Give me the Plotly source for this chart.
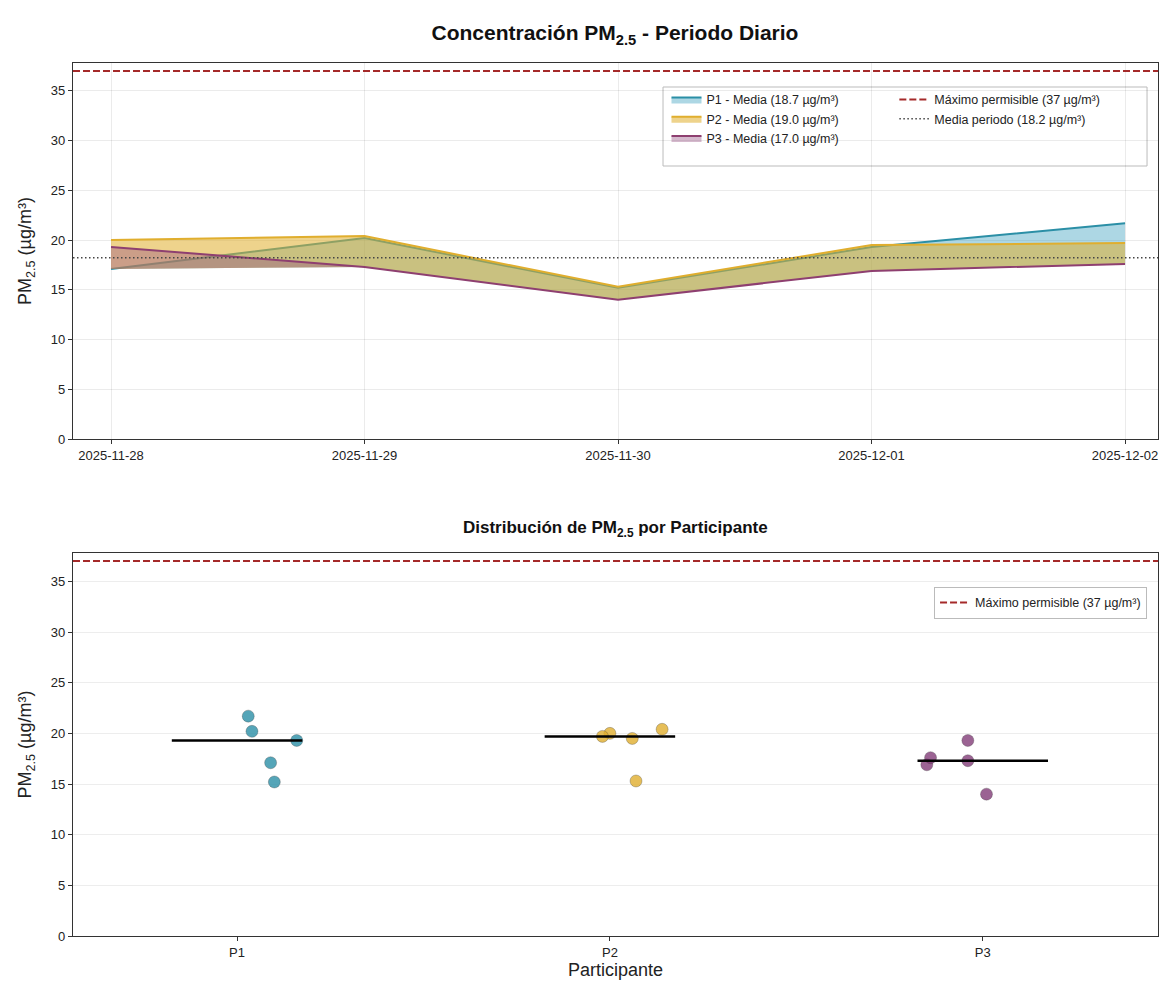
import numpy as np
import pandas as pd
import plotly.graph_objects as go

# ---------------- data ----------------
dates = ["2025-11-28", "2025-11-29", "2025-11-30", "2025-12-01", "2025-12-02"]
participants = ["P1", "P2", "P3"]
p1_values = [17.1, 20.2, 15.2, 19.3, 21.7]
p2_values = [20.0, 20.4, 15.3, 19.5, 19.7]
p3_values = [19.3, 17.3, 14.0, 16.9, 17.6]
# horizontal jitter of the strip-plot points (category units)
p1_jitter = [0.09, 0.04, 0.10, 0.16, 0.03]
p2_jitter = [0.00, 0.14, 0.07, 0.06, -0.02]
p3_jitter = [-0.04, -0.04, 0.01, -0.15, -0.14]
limit_value = 37

values = {"P1": p1_values, "P2": p2_values, "P3": p3_values}
jitters = {"P1": p1_jitter, "P2": p2_jitter, "P3": p3_jitter}
line_colors = {"P1": "#2B8FA6", "P2": "#E0AE2E", "P3": "#8E3F70"}
fill_colors = {"P1": "rgba(60,160,190,0.42)", "P2": "rgba(224,174,46,0.55)", "P3": "rgba(150,80,130,0.40)"}
marker_colors = {"P1": "rgba(43,143,166,0.8)", "P2": "rgba(224,174,46,0.8)", "P3": "rgba(130,60,120,0.8)"}

FONT = "Liberation Sans, Arial, Helvetica, sans-serif"
dt = pd.to_datetime(dates)
floor = np.min(np.array([p1_values, p2_values, p3_values]), axis=0)
overall_mean = np.mean(np.concatenate([p1_values, p2_values, p3_values]))

fig = go.Figure()

# ---------------- top chart ----------------
for p in participants:
    v = values[p]
    fig.add_trace(go.Scatter(x=dt, y=floor, mode="lines", line=dict(width=0),
                             showlegend=False, hoverinfo="skip", xaxis="x", yaxis="y"))
    fig.add_trace(go.Scatter(x=dt, y=v, mode="lines", fill="tonexty",
                             fillcolor=fill_colors[p],
                             line=dict(color=line_colors[p], width=2),
                             name=f"{p} - Media ({np.mean(v):.1f} µg/m³)",
                             legend="legend", xaxis="x", yaxis="y"))

# ---------------- bottom chart ----------------
for i, p in enumerate(participants):
    v = values[p]
    xs = [i + j for j in jitters[p]]
    fig.add_trace(go.Scatter(x=xs, y=v, mode="markers", showlegend=False,
                             marker=dict(size=12, color=marker_colors[p],
                                         line=dict(color="rgba(60,60,60,0.5)", width=0.6)),
                             xaxis="x2", yaxis="y2"))
    med = float(np.median(v))
    fig.add_trace(go.Scatter(x=[i - 0.175, i + 0.175], y=[med, med], mode="lines",
                             line=dict(color="black", width=2.5), showlegend=False,
                             xaxis="x2", yaxis="y2"))

shapes = [
    dict(type="line", xref="x domain", yref="y", x0=0, x1=1, y0=limit_value, y1=limit_value,
         line=dict(color="#A52A2A", width=2, dash="7px,3px"), showlegend=True,
         name=f"Máximo permisible ({limit_value} µg/m³)", legend="legend2", layer="above"),
    dict(type="line", xref="x domain", yref="y", x0=0, x1=1, y0=overall_mean, y1=overall_mean,
         line=dict(color="#444444", width=1.5, dash="1.5px,2.5px"), showlegend=True,
         name=f"Media periodo ({overall_mean:.1f} µg/m³)", legend="legend2", layer="above"),
    dict(type="line", xref="x2 domain", yref="y2", x0=0, x1=1, y0=limit_value, y1=limit_value,
         line=dict(color="#A52A2A", width=2, dash="7px,3px"), showlegend=True,
         name=f"Máximo permisible ({limit_value} µg/m³)", legend="legend3", layer="above"),
    # combined border around the two-column top legend
    dict(type="rect", xref="paper", yref="paper", x0=0.5438, x1=0.9899, y0=0.882, y1=0.9725,
         line=dict(color="#BBBBBB", width=1), fillcolor="rgba(255,255,255,0.85)", layer="below"),
]

axis_common = dict(showline=True, linecolor="#333333", linewidth=1.3, mirror=True,
                   ticks="outside", ticklen=4, tickcolor="#333333",
                   tickfont=dict(family=FONT, size=13, color="#222222"),
                   zeroline=False, automargin=False)

x0 = dt[0] - pd.Timedelta(days=0.15)
x1 = dt[-1] + pd.Timedelta(days=0.13)

legend_common = dict(xanchor="left", yanchor="top", bgcolor="rgba(0,0,0,0)", borderwidth=0,
                     font=dict(family=FONT, size=12.5), tracegroupgap=0, itemwidth=30,
                     traceorder="normal")

# the page adds an 8px body margin, so the figure is sized to fit the 1169x991 window
fig.update_layout(
    width=1161, height=983,
    paper_bgcolor="white", plot_bgcolor="white",
    margin=dict(l=65, r=11, t=55, b=55),
    font=dict(family=FONT, color="#222222"),
    title=dict(text="<b>Concentración PM<sub>2.5</sub> - Periodo Diario</b>",
               x=0.5228, xanchor="center", y=0.9746, yanchor="middle",
               font=dict(family=FONT, size=21, color="#111111")),
    xaxis=dict(domain=[0, 1], anchor="y", type="date", range=[x0, x1],
               tickvals=dt, tickformat="%Y-%m-%d",
               showgrid=True, gridcolor="rgba(0,0,0,0.08)", **axis_common),
    yaxis=dict(domain=[0.5693, 1], anchor="x", range=[0, 37.8], dtick=5,
               showgrid=True, gridcolor="rgba(0,0,0,0.08)",
               title=dict(text="PM<sub>2.5</sub> (µg/m³)", font=dict(family=FONT, size=18), standoff=14),
               **axis_common),
    xaxis2=dict(domain=[0, 1], anchor="y2", range=[-0.44, 2.47],
                tickvals=list(range(len(participants))), ticktext=participants,
                showgrid=False,
                title=dict(text="Participante", font=dict(family=FONT, size=18), standoff=4),
                **axis_common),
    yaxis2=dict(domain=[0, 0.4387], anchor="x2", range=[0, 37.8], dtick=5,
                showgrid=True, gridcolor="rgba(0,0,0,0.07)",
                title=dict(text="PM<sub>2.5</sub> (µg/m³)", font=dict(family=FONT, size=18), standoff=14),
                **axis_common),
    shapes=shapes,
    legend=dict(x=0.547, y=0.975, **legend_common),
    legend2=dict(x=0.757, y=0.975, **legend_common),
    legend3=dict(x=0.9899, y=0.3998, xanchor="right", yanchor="top", bgcolor="white",
                 bordercolor="#BBBBBB", borderwidth=1, font=dict(family=FONT, size=12.5), itemwidth=30),
    annotations=[dict(text="<b>Distribución de PM<sub>2.5</sub> por Participante</b>",
                      xref="paper", yref="paper", x=0.5, y=0.4387, xanchor="center", yanchor="bottom",
                      yshift=11, showarrow=False, font=dict(family=FONT, size=17, color="#111111"))],
)

fig.write_html("out.html")
